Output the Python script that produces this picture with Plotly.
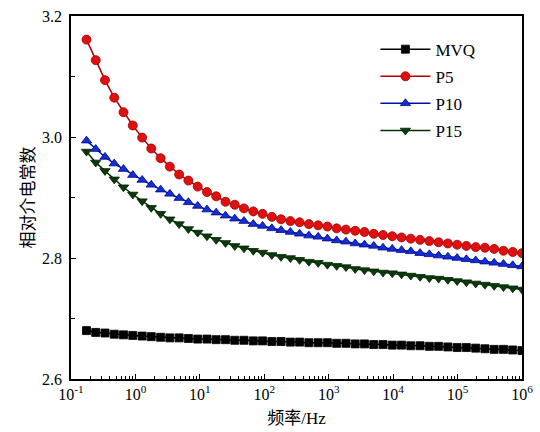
import plotly.graph_objects as go

freq_hz = [0.174, 0.242, 0.337, 0.469, 0.653, 0.910, 1.27, 1.76, 2.46, 3.42,
           4.77, 6.64, 9.25, 12.9, 17.9, 25.0, 34.8, 48.4, 67.5, 94.0,
           131, 182, 254, 353, 492, 685, 954, 1328, 1850, 2577,
           3589, 5000, 6964, 9690, 13500, 18800, 26200, 36500, 50800, 70700,
           98400, 137000, 191000, 266000, 370000, 516000, 718000, 1000000]

mvq = [2.680, 2.677, 2.676, 2.674, 2.673, 2.672, 2.671, 2.670, 2.669, 2.668,
       2.668, 2.667, 2.666, 2.666, 2.665, 2.665, 2.664, 2.664, 2.663, 2.663,
       2.662, 2.662, 2.661, 2.661, 2.660, 2.660, 2.660, 2.659, 2.659, 2.658,
       2.658, 2.657, 2.657, 2.656, 2.656, 2.655, 2.655, 2.654, 2.654, 2.653,
       2.652, 2.652, 2.651, 2.650, 2.649, 2.649, 2.648, 2.647]

p5 = [3.161, 3.127, 3.094, 3.065, 3.041, 3.019, 2.999, 2.981, 2.965, 2.951,
      2.938, 2.928, 2.918, 2.909, 2.902, 2.893, 2.888, 2.882, 2.877, 2.873,
      2.868, 2.864, 2.861, 2.859, 2.856, 2.854, 2.852, 2.849, 2.847, 2.845,
      2.843, 2.840, 2.838, 2.836, 2.834, 2.832, 2.830, 2.828, 2.826, 2.824,
      2.822, 2.820, 2.818, 2.817, 2.815, 2.812, 2.810, 2.808]

p10 = [2.994, 2.980, 2.967, 2.956, 2.947, 2.937, 2.929, 2.921, 2.913, 2.906,
       2.899, 2.892, 2.886, 2.880, 2.875, 2.870, 2.865, 2.861, 2.856, 2.853,
       2.849, 2.846, 2.843, 2.840, 2.837, 2.835, 2.832, 2.829, 2.827, 2.824,
       2.822, 2.820, 2.817, 2.815, 2.813, 2.811, 2.808, 2.806, 2.804, 2.802,
       2.800, 2.798, 2.796, 2.794, 2.792, 2.790, 2.788, 2.786]

p15 = [2.976, 2.958, 2.944, 2.930, 2.917, 2.905, 2.894, 2.883, 2.873, 2.864,
       2.856, 2.848, 2.842, 2.836, 2.830, 2.825, 2.820, 2.816, 2.812, 2.809,
       2.805, 2.802, 2.800, 2.797, 2.794, 2.792, 2.789, 2.787, 2.785, 2.782,
       2.780, 2.778, 2.776, 2.775, 2.773, 2.771, 2.769, 2.767, 2.766, 2.764,
       2.762, 2.760, 2.758, 2.756, 2.754, 2.752, 2.750, 2.748]

series_names = ["MVQ", "P5", "P10", "P15"]

x_tick_vals = [0.1, 1, 10, 100, 1000, 10000, 100000, 1000000]
x_tick_text = ["10<sup>-1</sup>", "10<sup>0</sup>", "10<sup>1</sup>", "10<sup>2</sup>",
               "10<sup>3</sup>", "10<sup>4</sup>", "10<sup>5</sup>", "10<sup>6</sup>"]
x_minor_vals = [m * d for d in [0.1, 1, 10, 100, 1000, 10000, 100000] for m in range(2, 10)]

y_tick_vals = [2.6, 2.8, 3.0, 3.2]
y_tick_text = ["2.6", "2.8", "3.0", "3.2"]
y_minor_vals = [2.7, 2.9, 3.1]

SERIF = "Liberation Serif, Times New Roman, Noto Sans CJK SC"

styles = [
    dict(color="#000000", mcolor="#000000", mline="#000000", symbol="square", size=8),
    dict(color="#b00000", mcolor="#e01010", mline="#a00000", symbol="circle", size=9),
    dict(color="#0010b0", mcolor="#1030d0", mline="#000090", symbol="triangle-up", size=9),
    dict(color="#003300", mcolor="#0a3a0a", mline="#002000", symbol="triangle-down", size=9),
]

fig = go.Figure()
for name, ys, st in zip(series_names, [mvq, p5, p10, p15], styles):
    fig.add_trace(go.Scatter(
        x=freq_hz, y=ys, name=name, mode="lines+markers",
        legendgroup=name,
        line=dict(color=st["color"], width=1.5),
        marker=dict(symbol=st["symbol"], size=st["size"], color=st["mcolor"],
                    line=dict(color=st["mline"], width=0.8)),
    ))

fig.update_layout(
    width=540, height=432,
    margin=dict(l=71, r=18, t=16, b=53),
    paper_bgcolor="white", plot_bgcolor="white",
    font=dict(family=SERIF, size=15, color="black"),
    showlegend=True,
    legend=dict(x=0.675, y=0.957, xanchor="left", yanchor="top",
                bgcolor="rgba(0,0,0,0)", font=dict(size=17, family=SERIF),
                tracegroupgap=2, itemwidth=50),
)

fig.update_xaxes(
    type="log", range=[-1, 6], automargin=False,
    tickmode="array", tickvals=x_tick_vals, ticktext=x_tick_text,
    ticklabeloverflow="allow",
    showline=True, linecolor="black", linewidth=1.5, mirror=True,
    ticks="inside", ticklen=5, tickwidth=1.2, tickcolor="black",
    minor=dict(ticks="inside", ticklen=3, tickwidth=1, tickcolor="black",
               tickmode="array", tickvals=x_minor_vals, showgrid=False),
    showgrid=False, zeroline=False,
    tickfont=dict(size=16, family=SERIF),
    title=dict(text="频率/Hz", font=dict(size=17, family=SERIF), standoff=10),
)
fig.update_yaxes(
    range=[2.6, 3.2], automargin=False,
    tickmode="array", tickvals=y_tick_vals, ticktext=y_tick_text,
    showline=True, linecolor="black", linewidth=1.5, mirror=True,
    ticks="inside", ticklen=5, tickwidth=1.2, tickcolor="black",
    minor=dict(ticks="inside", ticklen=4, tickwidth=1, tickcolor="black",
               tickmode="array", tickvals=y_minor_vals, showgrid=False),
    showgrid=False, zeroline=False,
    tickfont=dict(size=16, family=SERIF),
    ticklabelstandoff=4,
    title=dict(text="相对介电常数", font=dict(size=17, family=SERIF), standoff=3),
)

fig.write_html(
    "out.html",
    config={"displayModeBar": False},
    post_script="document.body.style.margin='0';document.body.style.overflow='hidden';",
)
